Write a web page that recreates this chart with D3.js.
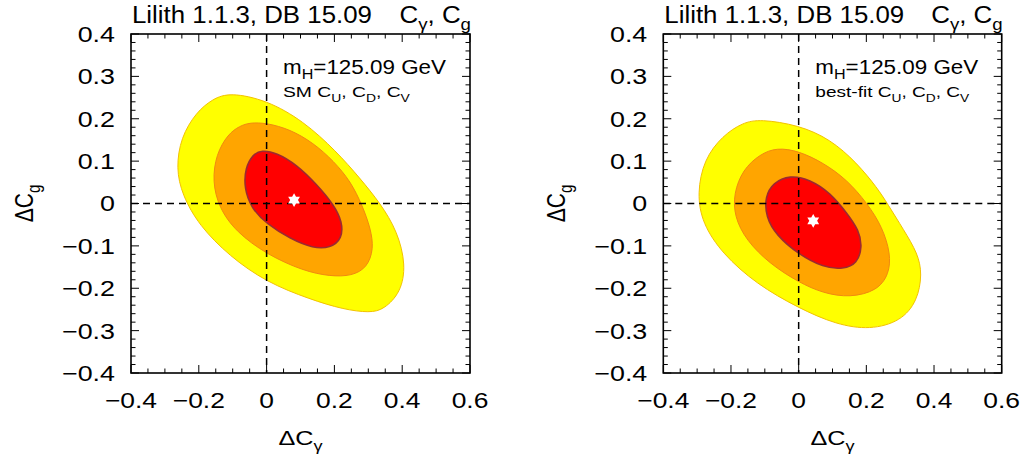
<!DOCTYPE html>
<html><head><meta charset="utf-8">
<script src="https://cdn.jsdelivr.net/npm/d3@7"></script>
<style>
body{margin:0;background:#fff}
text{font-family:"Liberation Sans",Arial,Helvetica,sans-serif;fill:#000}
</style>
</head><body>
<svg id="chart" width="1028" height="461"></svg>
<script>
// ---------- data ----------
const xTicks = [-0.4, -0.2, 0, 0.2, 0.4, 0.6];
const yTicks = [0.4, 0.3, 0.2, 0.1, 0, -0.1, -0.2, -0.3, -0.4];
const xDomain = [-0.4, 0.6];
const yDomain = [-0.4, 0.4];
const titleText = "Lilith 1.1.3, DB 15.09";
const massText = "=125.09 GeV";
const panelPrefixes = ["SM ", "best-fit "];

// left panel (SM C_U, C_D, C_V): 68.3%, 95.4%, 99.7% CL contours [ΔCγ, ΔCg]
const smYellow = [[-0.108,0.262],[0,0.244],[0.108,0.195],[0.206,0.123],[0.275,0.060],[0.336,0.0],[0.386,-0.066],[0.411,-0.145],[0.396,-0.210],[0.346,-0.250],[0.305,-0.258],[0.226,-0.250],[0.128,-0.226],[0,-0.186],[-0.110,-0.124],[-0.199,-0.052],[-0.249,0.020],[-0.267,0.083],[-0.253,0.156],[-0.208,0.215],[-0.159,0.247]];
const smOrange = [[-0.049,0.191],[0,0.190],[0.069,0.175],[0.138,0.143],[0.198,0.100],[0.248,0.052],[0.282,-0.004],[0.307,-0.059],[0.316,-0.107],[0.297,-0.151],[0.252,-0.171],[0.187,-0.172],[0.108,-0.159],[0,-0.120],[-0.090,-0.067],[-0.140,-0.011],[-0.160,0.052],[-0.149,0.116],[-0.114,0.164],[-0.079,0.183]];
const smRed = [[-0.015,0.126],[0.029,0.120],[0.088,0.092],[0.148,0.045],[0.199,-0.004],[0.223,-0.043],[0.223,-0.083],[0.188,-0.105],[0.138,-0.106],[0.069,-0.083],[0,-0.048],[-0.045,-0.011],[-0.066,0.036],[-0.063,0.084],[-0.040,0.116]];
const smBest = [0.081, 0.008];

// right panel (best-fit C_U, C_D, C_V)
const bfYellow = [[-0.114,0.199],[0,0.185],[0.093,0.152],[0.172,0.096],[0.233,0.036],[0.262,0.000],[0.311,-0.063],[0.352,-0.118],[0.365,-0.166],[0.351,-0.230],[0.302,-0.278],[0.211,-0.298],[0.112,-0.286],[0,-0.247],[-0.125,-0.190],[-0.225,-0.119],[-0.285,-0.047],[-0.300,0.024],[-0.280,0.104],[-0.225,0.160],[-0.165,0.191]];
const bfOrange = [[-0.065,0.132],[0,0.124],[0.073,0.096],[0.143,0.056],[0.203,0.000],[0.247,-0.055],[0.272,-0.119],[0.267,-0.167],[0.232,-0.206],[0.152,-0.222],[0.073,-0.212],[0,-0.186],[-0.086,-0.142],[-0.155,-0.087],[-0.190,-0.031],[-0.192,0.024],[-0.165,0.080],[-0.115,0.116]];
const bfRed = [[-0.026,0.067],[0.033,0.057],[0.094,0.025],[0.143,-0.023],[0.178,-0.063],[0.188,-0.102],[0.173,-0.142],[0.132,-0.155],[0.073,-0.151],[0,-0.120],[-0.066,-0.075],[-0.097,-0.031],[-0.099,0.016],[-0.076,0.049]];
const bfBest = [0.043, -0.041];

// ---------- drawing ----------
const svg = d3.select("#chart");
const top0 = 34, bot0 = 373;
const panels = [
  {x0: 131, x1: 470, contours: [smYellow, smOrange, smRed], best: smBest, prefix: panelPrefixes[0], subW: 127},
  {x0: 663.3, x1: 1001.7, contours: [bfYellow, bfOrange, bfRed], best: bfBest, prefix: panelPrefixes[1], subW: 154}
];
const fills = ["#ffff00", "#ffa500", "#ff0000"];
const strokes = ["#f2c200", "#f08a10", "#9c2a30"];
const strokeW = [1, 1, 1.6];
const tickFmt = v => v === 0 ? "0" : d3.format(".1f")(v);

function stretch(sel, fx) {
  sel.each(function() {
    const t = d3.select(this);
    const x = +t.attr("x"), y = +t.attr("y");
    t.attr("transform", `translate(${x},${y}) scale(${fx},1) translate(${-x},${-y})`);
  });
}
function fitWidth(sel, w) {
  sel.each(function() {
    const t = d3.select(this);
    const bw = this.getBBox().width;
    const x = +t.attr("x"), y = +t.attr("y");
    t.attr("transform", `translate(${x},${y}) scale(${w / bw},1) translate(${-x},${-y})`);
  });
}
function addParts(t, parts, fs) {
  let wasSub = false;
  parts.forEach(([s, sub]) => {
    const ts = t.append("tspan").text(s);
    if (sub && !wasSub) ts.attr("dy", fs * 0.28).attr("font-size", fs * 0.72);
    else if (sub) ts.attr("font-size", fs * 0.72);
    else if (wasSub) ts.attr("dy", -fs * 0.28);
    wasSub = sub;
  });
}

panels.forEach(p => {
  const x = d3.scaleLinear().domain(xDomain).range([p.x0, p.x1]);
  const y = d3.scaleLinear().domain(yDomain).range([bot0, top0]);
  const g = svg.append("g");
  const line = d3.line().x(d => x(d[0])).y(d => y(d[1])).curve(d3.curveBasisClosed);

  p.contours.forEach((c, i) => {
    g.append("path").attr("d", line(c)).attr("fill", fills[i])
      .attr("stroke", strokes[i]).attr("stroke-width", strokeW[i]);
  });

  // dashed zero lines
  g.append("line").attr("x1", x(0)).attr("x2", x(0)).attr("y1", top0).attr("y2", bot0)
    .attr("stroke", "#000").attr("stroke-width", 1.5).attr("stroke-dasharray", "7,5");
  g.append("line").attr("x1", p.x0).attr("x2", p.x1).attr("y1", y(0)).attr("y2", y(0))
    .attr("stroke", "#000").attr("stroke-width", 1.5).attr("stroke-dasharray", "7,5");

  // best-fit star (hexagram)
  const R = 6.8, r = R / Math.sqrt(3);
  const starPts = d3.range(12).map(k => {
    const a = -Math.PI / 2 + k * Math.PI / 6, rr = k % 2 === 0 ? R : r;
    return [rr * Math.cos(a), rr * Math.sin(a)];
  });
  g.append("path").attr("d", "M" + starPts.join("L") + "Z")
    .attr("transform", `translate(${x(p.best[0])},${y(p.best[1])})`).attr("fill", "#fff");

  // ticks
  const tk = g.append("g").attr("stroke", "#000").attr("stroke-width", 1);
  const xMinor = d3.range(-0.4, 0.6001, 0.05);
  const yMinor = d3.range(-0.4, 0.4001, 0.02);
  xMinor.forEach(v => {
    const major = Math.abs(Math.round(v * 5) - v * 5) < 1e-6;
    const L = major ? 8 : 4.5;
    tk.append("line").attr("x1", x(v)).attr("x2", x(v)).attr("y1", bot0).attr("y2", bot0 - L);
    tk.append("line").attr("x1", x(v)).attr("x2", x(v)).attr("y1", top0).attr("y2", top0 + L);
  });
  yMinor.forEach(v => {
    const major = Math.abs(Math.round(v * 10) - v * 10) < 1e-6;
    const L = major ? 8 : 4.5;
    tk.append("line").attr("y1", y(v)).attr("y2", y(v)).attr("x1", p.x0).attr("x2", p.x0 + L);
    tk.append("line").attr("y1", y(v)).attr("y2", y(v)).attr("x1", p.x1).attr("x2", p.x1 - L);
  });

  // frame
  g.append("rect").attr("x", p.x0).attr("y", top0).attr("width", p.x1 - p.x0).attr("height", bot0 - top0)
    .attr("fill", "none").attr("stroke", "#000").attr("stroke-width", 1.6);

  // tick labels
  g.selectAll(".xl").data(xTicks).join("text").attr("class", "xl")
    .attr("x", d => x(d)).attr("y", bot0 + 35).attr("text-anchor", "middle")
    .attr("font-size", 22).text(tickFmt).call(stretch, 1.2);
  g.selectAll(".yl").data(yTicks).join("text").attr("class", "yl")
    .attr("x", p.x0 - 16).attr("y", d => y(d) + 8).attr("text-anchor", "end")
    .attr("font-size", 22).text(tickFmt).call(stretch, 1.22);

  // title
  g.append("text").attr("x", p.x0 + 1).attr("y", 23).attr("font-size", 24)
    .text(titleText).call(fitWidth, 240);
  const t2 = g.append("text").attr("x", p.x1 + 1).attr("y", 23).attr("font-size", 24).attr("text-anchor", "end");
  addParts(t2, [["C", false], ["γ", true], [", C", false], ["g", true]], 24);
  stretch(t2, 1.08);

  // annotations
  const a1 = g.append("text").attr("x", p.x0 + 152).attr("y", 74).attr("font-size", 19.5);
  addParts(a1, [["m", false], ["H", true], [massText, false]], 19.5);
  fitWidth(a1, 163);
  const a2 = g.append("text").attr("x", p.x0 + 152).attr("y", 97.5).attr("font-size", 14.5);
  addParts(a2, [[p.prefix + "C", false], ["U", true], [", C", false], ["D", true], [", C", false], ["V", true]], 14.5);
  fitWidth(a2, p.subW);

  // axis titles
  const xt = g.append("text").attr("x", (p.x0 + p.x1) / 2).attr("y", 445).attr("font-size", 21).attr("text-anchor", "middle");
  addParts(xt, [["ΔC", false], ["γ", true]], 21);
  stretch(xt, 1.2);
  const yt = g.append("text").attr("x", 0).attr("y", 0).attr("font-size", 21).attr("text-anchor", "middle")
    .attr("transform", `translate(${p.x0 - 98},${(top0 + bot0) / 2}) scale(1.2,1) rotate(-90)`);
  addParts(yt, [["ΔC", false], ["g", true]], 21);
});
</script>
</body></html>
